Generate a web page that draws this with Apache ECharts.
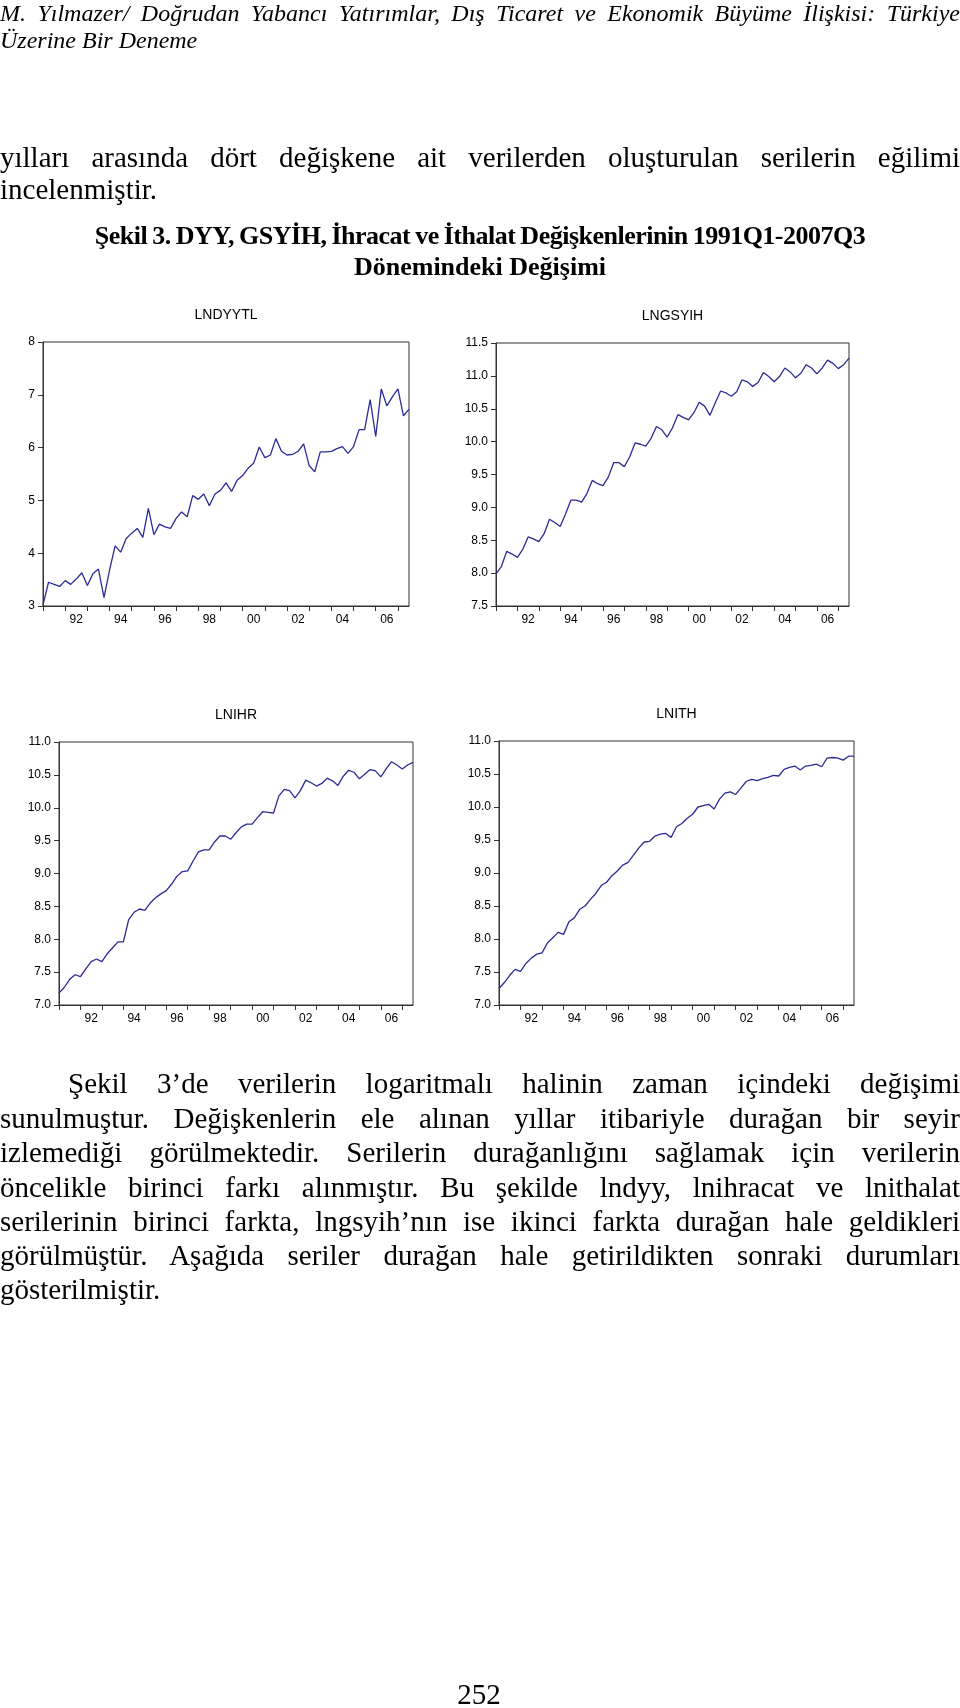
<!DOCTYPE html>
<html>
<head>
<meta charset="utf-8">
<script src="https://cdn.jsdelivr.net/npm/echarts@6/dist/echarts.min.js"></script>
<style>
  html, body { margin: 0; padding: 0; background: #fff; }
  body { width: 960px; height: 1708px; position: relative; overflow: hidden; }
  #chart { position: absolute; left: 0; top: 0; width: 960px; height: 1708px; }
  .t { position: absolute; left: 0; width: 960px; font-family: "Liberation Serif", "Times New Roman", serif; color: #000; white-space: nowrap; }
  .j { text-align: justify; text-align-last: justify; white-space: normal; }
  .hdr { font-style: italic; font-size: 24px; line-height: 27px; }
  .body { font-size: 29px; line-height: 32px; }
  .cap { font-weight: bold; font-size: 26px; line-height: 32px; text-align: center; }
  .par { font-size: 29px; line-height: 34px; }
</style>
</head>
<body>
<div id="chart"></div>

<div class="t hdr j" style="top:0px;">M. Yılmazer/ Doğrudan Yabancı Yatırımlar, Dış Ticaret ve Ekonomik Büyüme İlişkisi: Türkiye</div>
<div class="t hdr" style="top:27px;">Üzerine Bir Deneme</div>

<div class="t body j" style="top:141px;">yılları arasında dört değişkene ait verilerden oluşturulan serilerin eğilimi</div>
<div class="t body" style="top:173px;">incelenmiştir.</div>

<div class="t cap" style="top:220px; letter-spacing:-0.5px; word-spacing:-1px;">Şekil 3. DYY, GSYİH, İhracat ve İthalat Değişkenlerinin 1991Q1-2007Q3</div>
<div class="t cap" style="top:251px;">Dönemindeki Değişimi</div>

<div class="t par j" style="top:1066px; left:68px; width:892px;">Şekil 3’de verilerin logaritmalı halinin zaman içindeki değişimi</div>
<div class="t par j" style="top:1101px;">sunulmuştur. Değişkenlerin ele alınan yıllar itibariyle durağan bir seyir</div>
<div class="t par j" style="top:1135px;">izlemediği görülmektedir. Serilerin durağanlığını sağlamak için verilerin</div>
<div class="t par j" style="top:1170px;">öncelikle birinci farkı alınmıştır. Bu şekilde lndyy, lnihracat ve lnithalat</div>
<div class="t par j" style="top:1204px;">serilerinin birinci farkta, lngsyih’nın ise ikinci farkta durağan hale geldikleri</div>
<div class="t par j" style="top:1238px;">görülmüştür. Aşağıda seriler durağan hale getirildikten sonraki durumları</div>
<div class="t par" style="top:1272px;">gösterilmiştir.</div>

<div class="t" style="top:1677px; font-size:29px; line-height:34px; text-align:center; left:0; width:958px;">252</div>

<script>
// ---- Data (quarterly, 1991Q1 - 2007Q3) ----
const quarters = [];
for (let y = 1991; y <= 2007; y++) {
  for (let q = 1; q <= 4; q++) {
    if (y === 2007 && q > 3) break;
    quarters.push(y + 'Q' + q);
  }
}

const chartTitles = ['LNDYYTL', 'LNGSYIH', 'LNIHR', 'LNITH'];

const lndyytl = [3.02, 3.45, 3.41, 3.37, 3.48, 3.41, 3.51, 3.63, 3.39, 3.61, 3.70, 3.16, 3.68, 4.14, 4.02, 4.28, 4.38, 4.47, 4.30, 4.85, 4.35, 4.55, 4.50, 4.47, 4.66, 4.78, 4.69, 5.09, 5.02, 5.12, 4.90, 5.12, 5.19, 5.33, 5.17, 5.38, 5.47, 5.61, 5.71, 6.01, 5.81, 5.86, 6.17, 5.93, 5.86, 5.87, 5.93, 6.07, 5.66, 5.54, 5.92, 5.92, 5.93, 5.98, 6.02, 5.89, 6.02, 6.34, 6.34, 6.91, 6.21, 7.11, 6.79, 6.96, 7.11, 6.60, 6.73];

const lngsyih = [7.99, 8.10, 8.33, 8.29, 8.24, 8.36, 8.55, 8.52, 8.48, 8.60, 8.82, 8.77, 8.71, 8.90, 9.11, 9.11, 9.08, 9.21, 9.41, 9.36, 9.33, 9.46, 9.68, 9.68, 9.62, 9.77, 9.98, 9.96, 9.93, 10.05, 10.23, 10.18, 10.07, 10.21, 10.41, 10.37, 10.33, 10.44, 10.60, 10.54, 10.40, 10.59, 10.77, 10.74, 10.69, 10.76, 10.94, 10.91, 10.84, 10.90, 11.05, 10.99, 10.91, 10.99, 11.12, 11.06, 10.97, 11.04, 11.17, 11.12, 11.03, 11.12, 11.24, 11.19, 11.11, 11.17, 11.27];

const lnihr = [7.18, 7.27, 7.39, 7.46, 7.43, 7.55, 7.66, 7.70, 7.66, 7.78, 7.87, 7.96, 7.96, 8.30, 8.41, 8.46, 8.44, 8.55, 8.63, 8.69, 8.74, 8.84, 8.96, 9.03, 9.04, 9.19, 9.33, 9.36, 9.36, 9.48, 9.57, 9.57, 9.52, 9.62, 9.71, 9.75, 9.75, 9.85, 9.94, 9.93, 9.92, 10.18, 10.28, 10.26, 10.15, 10.26, 10.42, 10.38, 10.33, 10.37, 10.45, 10.41, 10.34, 10.48, 10.57, 10.54, 10.44, 10.51, 10.58, 10.56, 10.47, 10.59, 10.70, 10.65, 10.59, 10.65, 10.69];

const lnith = [7.25, 7.34, 7.45, 7.54, 7.51, 7.63, 7.71, 7.77, 7.79, 7.94, 8.02, 8.10, 8.07, 8.26, 8.32, 8.45, 8.50, 8.60, 8.69, 8.81, 8.86, 8.96, 9.03, 9.12, 9.16, 9.27, 9.38, 9.47, 9.48, 9.56, 9.59, 9.60, 9.54, 9.70, 9.75, 9.83, 9.89, 10.00, 10.02, 10.04, 9.97, 10.12, 10.21, 10.23, 10.19, 10.29, 10.39, 10.42, 10.40, 10.43, 10.45, 10.48, 10.47, 10.57, 10.60, 10.62, 10.56, 10.62, 10.63, 10.65, 10.61, 10.74, 10.75, 10.74, 10.71, 10.77, 10.77];

const yRanges = [
  { min: 3, max: 8, interval: 1, dec: 0 },
  { min: 7.5, max: 11.5, interval: 0.5, dec: 1 },
  { min: 7, max: 11, interval: 0.5, dec: 1 },
  { min: 7, max: 11, interval: 0.5, dec: 1 }
];
const seriesData = [lndyytl, lngsyih, lnihr, lnith];

// ---- Layout ----
const grids = [
  { left: 43, top: 342, width: 366, height: 264 },
  { left: 496, top: 343, width: 353, height: 263 },
  { left: 59, top: 742, width: 354, height: 263 },
  { left: 499, top: 741, width: 355, height: 264 }
];

const frameColor = '#333333';
const lineColor = '#2b2b96';
const labelFont = '"Liberation Sans", Arial, sans-serif';

const option = {
  animation: false,
  backgroundColor: 'transparent',
  grid: grids.map(g => Object.assign({
    show: true, borderColor: frameColor, borderWidth: 1, backgroundColor: 'transparent', containLabel: false
  }, g)),
  graphic: grids.map((g, i) => ({
    type: 'text',
    x: g.left + g.width / 2,
    y: g.top - 27,
    style: {
      text: chartTitles[i],
      textAlign: 'center',
      textVerticalAlign: 'middle',
      font: '14px ' + labelFont,
      fill: '#000'
    }
  })),
  xAxis: grids.map((g, i) => ({
    type: 'category',
    gridIndex: i,
    data: quarters,
    boundaryGap: false,
    axisLine: { show: true, lineStyle: { color: frameColor, width: 1 } },
    axisTick: {
      show: true,
      length: 5,
      interval: (idx) => idx % 4 === 0,
      lineStyle: { color: frameColor, width: 1 }
    },
    axisLabel: {
      show: true,
      interval: (idx) => idx % 8 === 6,
      formatter: (v) => v.substring(2, 4),
      color: '#000',
      fontSize: 12,
      fontFamily: labelFont,
      margin: 8
    },
    splitLine: { show: false }
  })),
  yAxis: grids.map((g, i) => ({
    type: 'value',
    gridIndex: i,
    min: yRanges[i].min,
    max: yRanges[i].max,
    interval: yRanges[i].interval,
    axisLine: { show: true, lineStyle: { color: frameColor, width: 1 } },
    axisTick: { show: true, length: 5, lineStyle: { color: frameColor, width: 1 } },
    axisLabel: {
      color: '#000',
      fontSize: 12,
      fontFamily: labelFont,
      margin: 8,
      formatter: (v) => v.toFixed(yRanges[i].dec)
    },
    splitLine: { show: false }
  })),
  series: seriesData.map((d, i) => ({
    type: 'line',
    xAxisIndex: i,
    yAxisIndex: i,
    data: d,
    showSymbol: false,
    symbol: 'none',
    lineStyle: { color: lineColor, width: 1.3 },
    silent: true
  }))
};

const chart = echarts.init(document.getElementById('chart'), null, { renderer: 'canvas' });
chart.setOption(option);
</script>
</body>
</html>
